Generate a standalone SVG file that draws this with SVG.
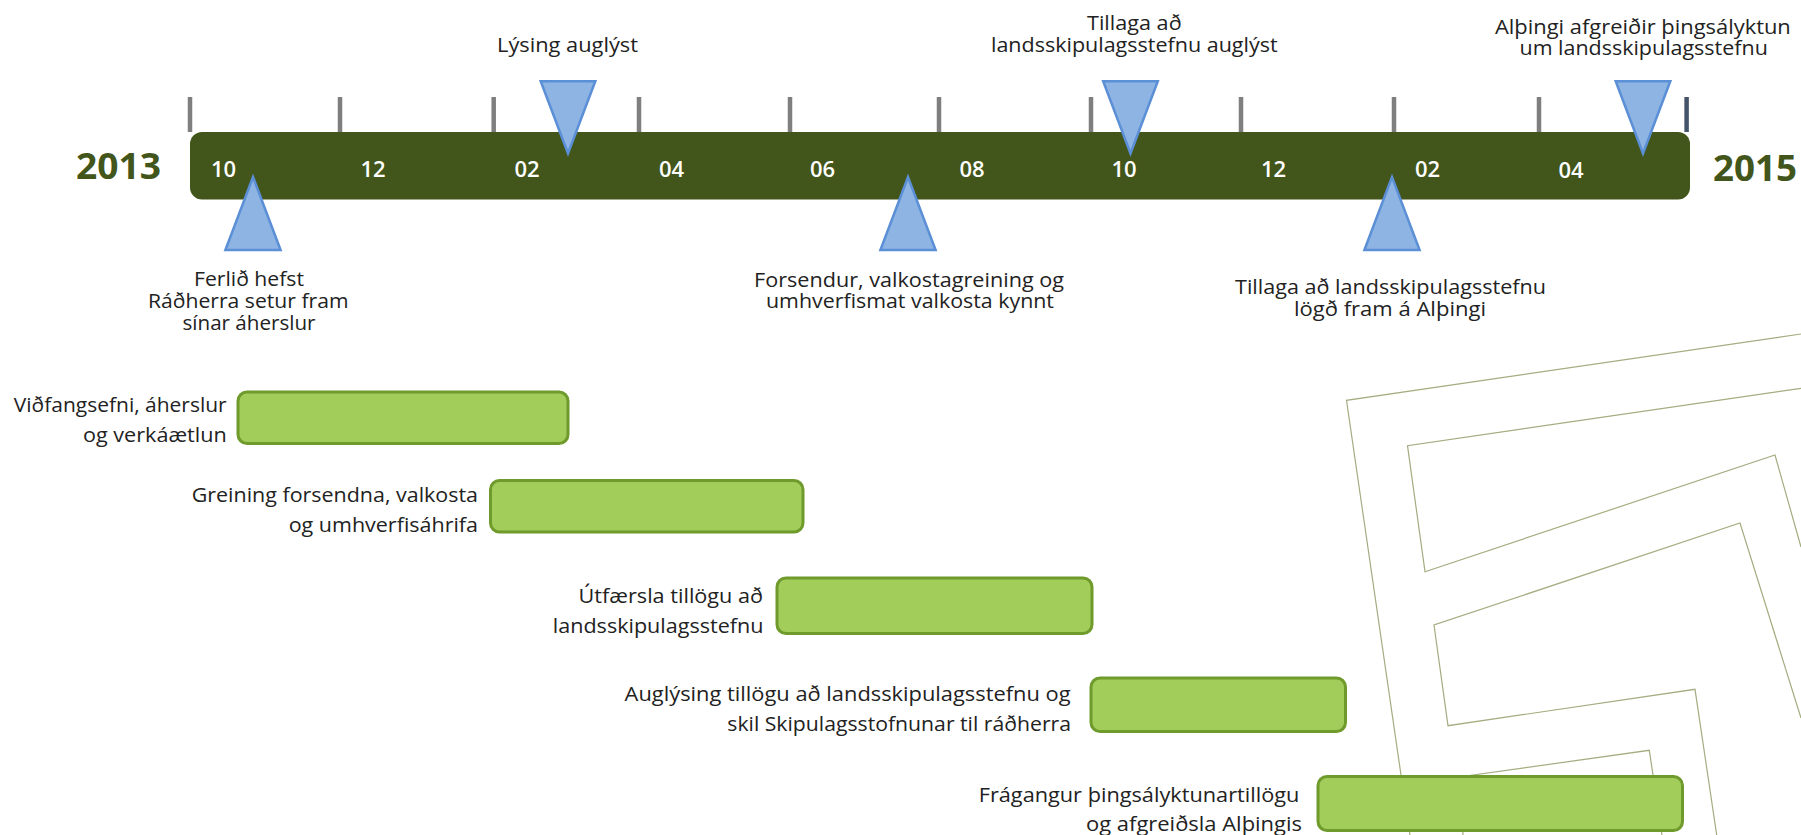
<svg xmlns="http://www.w3.org/2000/svg" width="1801" height="835" viewBox="0 0 1801 835">
<style>
text{font-family:"Open Sans","Liberation Sans",sans-serif;fill:#222;font-size:20px}
.y{font-size:36px;font-weight:700;fill:#42551a;text-anchor:middle}
.m{font-size:22px;font-weight:600;fill:#fff;text-anchor:middle}
.tick{stroke:#7f7f7f;stroke-width:4.5;fill:none}
.tri{fill:#8eb4e3;stroke:#5b8fd6;stroke-width:2.5;stroke-linejoin:miter}
.bar{fill:#a3cd5b;stroke:#6f9a2c;stroke-width:3}
.deco{fill:none;stroke:#a3ad80;stroke-width:1.2}
</style>
<rect width="1801" height="835" fill="#fff"/>
<g id="deco">
<polyline class="deco" points="1801,334 1346.5,400.3 1401,775 1410,835"/>
<polyline class="deco" points="1801,388.300 1407.5,445.7 1425,571.7 1775,455 1801,547"/>
<polyline class="deco" points="1801,718 1740,523 1434,625 1448,725.7 1695,689.3 1716.7,835"/>
<polyline class="deco" points="1463,835 1459,777 1649.3,750.3 1662,835"/>
</g>
<g id="timeline">
<g id="ticks">
<path class="tick" d="M190 97V132M340 97V132M493.7 97V132M639 97V132M790 97V132M939 97V132M1091 97V132M1241 97V132M1394 97V132M1539 97V132"/>
<path class="tick" style="stroke:#44546a" d="M1686.6 97V132"/>
</g>
<rect x="190" y="132" width="1500" height="67.5" rx="12" fill="#42551a"/>
<text class="y" x="118.5" y="178.7" textLength="85" lengthAdjust="spacingAndGlyphs">2013</text>
<text class="y" x="1755" y="181" textLength="84" lengthAdjust="spacingAndGlyphs">2015</text>
<text class="m" x="223.6" y="176.500">10</text><text class="m" x="373" y="176.500">12</text><text class="m" x="527" y="176.500">02</text><text class="m" x="671.6" y="176.500">04</text><text class="m" x="822.6" y="176.500">06</text><text class="m" x="972" y="176.500">08</text><text class="m" x="1124" y="176.500">10</text><text class="m" x="1273.6" y="176.500">12</text><text class="m" x="1427.6" y="176.500">02</text><text class="m" x="1571" y="177.500">04</text>
</g>
<g id="m1"><polygon class="tri" points="225.400,250 280.600,250 253,177"/>
<text x="194" y="286" textLength="110" lengthAdjust="spacingAndGlyphs">Ferlið hefst</text>
<text x="148" y="308" textLength="200.500" lengthAdjust="spacingAndGlyphs">Ráðherra setur fram</text>
<text x="182.500" y="330" textLength="133" lengthAdjust="spacingAndGlyphs">sínar áherslur</text></g>
<g id="m2"><polygon class="tri" points="540.700,81.250 595.300,81.250 568,153.400"/>
<text x="497" y="51.700" textLength="141" lengthAdjust="spacingAndGlyphs">Lýsing auglýst</text></g>
<g id="m3"><polygon class="tri" points="880.400,250 935.600,250 908,177"/>
<text x="754" y="286.700" textLength="310" lengthAdjust="spacingAndGlyphs">Forsendur, valkostagreining og</text>
<text x="766" y="308" textLength="288" lengthAdjust="spacingAndGlyphs">umhverfismat valkosta kynnt</text></g>
<g id="m4"><polygon class="tri" points="1103.200,81.250 1157.800,81.250 1130.500,153.400"/>
<text x="1087" y="30" textLength="94.600" lengthAdjust="spacingAndGlyphs">Tillaga að</text>
<text x="991" y="51.700" textLength="286.600" lengthAdjust="spacingAndGlyphs">landsskipulagsstefnu auglýst</text></g>
<g id="m5"><polygon class="tri" points="1364.400,250 1419.600,250 1392,177"/>
<text x="1235" y="294" textLength="311" lengthAdjust="spacingAndGlyphs">Tillaga að landsskipulagsstefnu</text>
<text x="1294" y="316" textLength="192" lengthAdjust="spacingAndGlyphs">lögð fram á Alþingi</text></g>
<g id="m6"><polygon class="tri" points="1615.700,81.250 1670.300,81.250 1643,153.400"/>
<text x="1495" y="34" textLength="295.800" lengthAdjust="spacingAndGlyphs">Alþingi afgreiðir þingsályktun</text>
<text x="1519.500" y="55" textLength="248.300" lengthAdjust="spacingAndGlyphs">um landsskipulagsstefnu</text></g>
<g id="p1"><rect class="bar" x="238" y="392" width="330" height="51.500" rx="9"/>
<text x="13.800" y="412" textLength="212.900" lengthAdjust="spacingAndGlyphs">Viðfangsefni, áherslur</text>
<text x="83" y="441.700" textLength="143.700" lengthAdjust="spacingAndGlyphs">og verkáætlun</text></g>
<g id="p2"><rect class="bar" x="490.500" y="480.500" width="312.500" height="51.500" rx="9"/>
<text x="191.700" y="502" textLength="286.300" lengthAdjust="spacingAndGlyphs">Greining forsendna, valkosta</text>
<text x="288.700" y="531.700" textLength="189.300" lengthAdjust="spacingAndGlyphs">og umhverfisáhrifa</text></g>
<g id="p3"><rect class="bar" x="777" y="578" width="315" height="55.500" rx="9"/>
<text x="578.600" y="603.300" textLength="184.400" lengthAdjust="spacingAndGlyphs">Útfærsla tillögu að</text>
<text x="552.800" y="633" textLength="210.700" lengthAdjust="spacingAndGlyphs">landsskipulagsstefnu</text></g>
<g id="p4"><rect class="bar" x="1091" y="678" width="254.500" height="53.500" rx="9"/>
<text x="624.600" y="700.700" textLength="446" lengthAdjust="spacingAndGlyphs">Auglýsing tillögu að landsskipulagsstefnu og</text>
<text x="727.300" y="730.700" textLength="343.700" lengthAdjust="spacingAndGlyphs">skil Skipulagsstofnunar til ráðherra</text></g>
<g id="p5"><rect class="bar" x="1318" y="776.500" width="364.500" height="54" rx="9"/>
<text x="978.700" y="802.300" textLength="320.700" lengthAdjust="spacingAndGlyphs">Frágangur þingsályktunartillögu</text>
<text x="1086" y="831" textLength="216" lengthAdjust="spacingAndGlyphs">og afgreiðsla Alþingis</text></g>
</svg>
